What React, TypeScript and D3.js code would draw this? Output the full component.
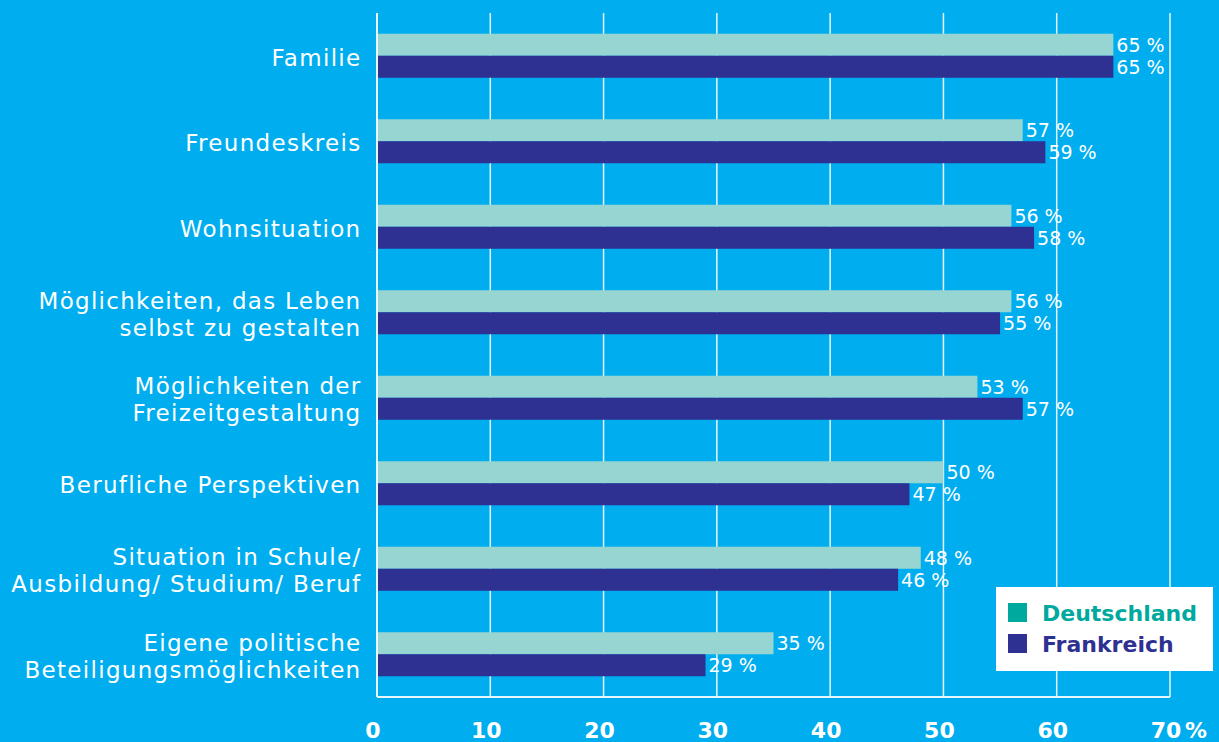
import React from "react";
import * as d3 from "d3";

const categories: string[][] = [
  ["Familie"],
  ["Freundeskreis"],
  ["Wohnsituation"],
  ["Möglichkeiten, das Leben", "selbst zu gestalten"],
  ["Möglichkeiten der", "Freizeitgestaltung"],
  ["Berufliche Perspektiven"],
  ["Situation in Schule/", "Ausbildung/ Studium/ Beruf"],
  ["Eigene politische", "Beteiligungsmöglichkeiten"],
];
const deutschland = [65, 57, 56, 56, 53, 50, 48, 35];
const frankreich = [65, 59, 58, 55, 57, 47, 46, 29];
const ticks = [0, 10, 20, 30, 40, 50, 60, 70];
const seriesNames = ["Deutschland", "Frankreich"];

const W = 1219;
const H = 742;
const BG = "#00aeef";
const DE = "#96d5d2";
const FR = "#2e3192";
const FONT = "'DejaVu Sans', sans-serif";

export default function App() {
  const x = d3.scaleLinear().domain([0, 70]).range([377, 1170]);
  const y = d3
    .scaleBand<number>()
    .domain(categories.map((_, i) => i))
    .range([13, 697])
    .paddingInner(0.485)
    .paddingOuter(0.2425);
  const bh = y.bandwidth() / 2;

  return (
    <svg
      width={W}
      height={H}
      style={{ position: "absolute", left: 0, top: 0 }}
      fontFamily={FONT}
    >
      <rect width={W} height={H} fill={BG} />
      {ticks.map((t) => (
        <line
          key={t}
          x1={x(t)}
          x2={x(t)}
          y1={13}
          y2={697}
          stroke="#e6f6fc"
          strokeWidth={t === 0 ? 2 : 1.5}
        />
      ))}
      <line x1={x(0)} x2={x(70)} y1={697} y2={697} stroke="#e6f6fc" strokeWidth={2} />
      {categories.map((lines, i) => {
        const y0 = y(i)!;
        const c = y0 + bh;
        const lh = 27;
        return (
          <g key={i}>
            <rect x={x(0) + 1} y={y0} width={x(deutschland[i]) - x(0) - 1} height={bh} fill={DE} />
            <rect x={x(0) + 1} y={y0 + bh} width={x(frankreich[i]) - x(0) - 1} height={bh} fill={FR} />
            <text x={x(deutschland[i]) + 3} y={y0 + bh / 2} dy="0.38em" fill="#fff" fontSize={19}>
              {deutschland[i]} %
            </text>
            <text x={x(frankreich[i]) + 3} y={y0 + bh * 1.5} dy="0.38em" fill="#fff" fontSize={19}>
              {frankreich[i]} %
            </text>
            {lines.map((l, j) => (
              <text
                key={j}
                x={361.5}
                y={c + 1.5 + (j - (lines.length - 1) / 2) * lh}
                dy="0.36em"
                textAnchor="end"
                fill="#fff"
                fontSize={23}
                letterSpacing={1.3}
              >
                {l}
              </text>
            ))}
          </g>
        );
      })}
      {ticks.map((t) => (
        <g key={"l" + t}>
          <text
            x={x(t) - 4}
            y={738}
            textAnchor="middle"
            fill="#fff"
            fontSize={22}
            fontWeight="bold"
          >
            {t}
          </text>
          {t === 70 && (
            <text x={x(t) + 15} y={738} fill="#fff" fontSize={22} fontWeight="bold">
              %
            </text>
          )}
        </g>
      ))}
      <g>
        <rect x={996} y={587} width={217} height={84} fill="#fff" />
        {seriesNames.map((n, i) => (
          <g key={n}>
            <rect x={1008} y={603 + i * 31} width={19} height={19} fill={i === 0 ? "#00a99d" : FR} />
            <text
              x={1042}
              y={621 + i * 31}
              fill={i === 0 ? "#00a99d" : FR}
              fontSize={22}
              fontWeight="bold"
            >
              {n}
            </text>
          </g>
        ))}
      </g>
    </svg>
  );
}
